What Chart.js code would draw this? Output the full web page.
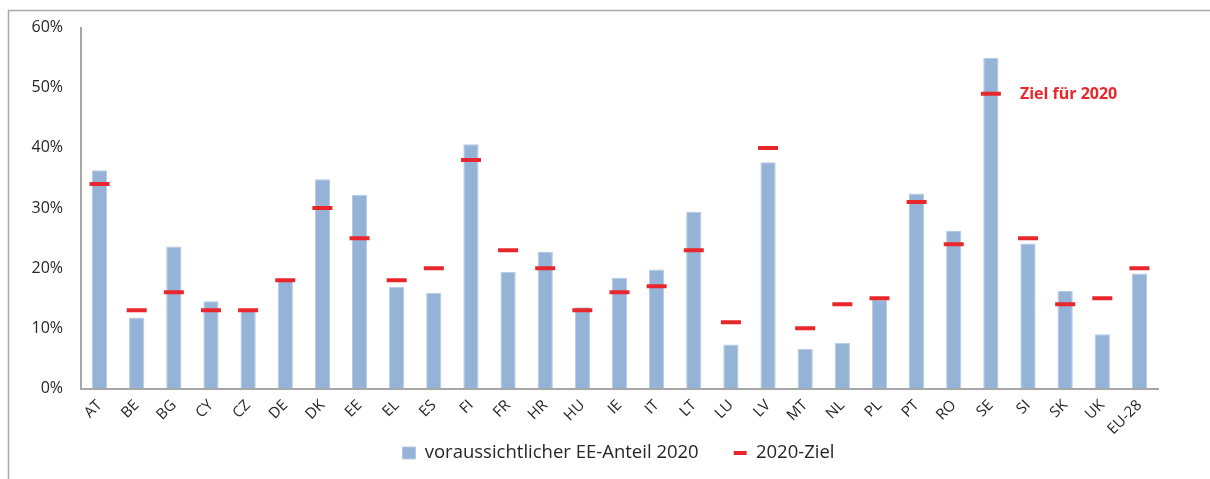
<!DOCTYPE html>
<html>
<head>
<meta charset="utf-8">
<script src="https://cdn.jsdelivr.net/npm/chart.js@4.4.1/dist/chart.umd.min.js"></script>
<style>
html,body{margin:0;padding:0;background:#fff;}
#wrap{position:absolute;left:0;top:0;width:1210px;height:479px;}
</style>
</head>
<body>
<div id="wrap"><canvas id="c" width="1210" height="479"></canvas></div>
<script>
const categories = ["AT","BE","BG","CY","CZ","DE","DK","EE","EL","ES","FI","FR","HR","HU","IE","IT","LT","LU","LV","MT","NL","PL","PT","RO","SE","SI","SK","UK","EU-28"];
const projectedShare = [36.3,11.8,23.6,14.5,13.0,18.0,34.8,32.2,16.9,15.9,40.6,19.4,22.7,13.5,18.4,19.8,29.4,7.3,37.6,6.6,7.6,14.7,32.4,26.2,55.0,24.1,16.2,9.0,19.1];
const target2020 = [34,13,16,13,13,18,30,25,18,20,38,23,20,13,16,17,23,11,40,10,14,15,31,24,49,25,14,15,20];
const yTicks = [0,10,20,30,40,50,60];
const annotationText = "Ziel für 2020";
const annotationIndex = 24;

const FONT = "Open Sans";
const TEXT = "#262626";
const AXIS = "#A6A6A6";
const RED = "#E8262B";
const BLUE = "#95B3D7";

const framePlugin = {
  id: 'frame',
  beforeDraw(chart) {
    const ctx = chart.ctx;
    ctx.save();
    ctx.strokeStyle = "#A9A9A9";
    ctx.lineWidth = 1.5;
    ctx.beginPath();
    ctx.moveTo(8.5, 479);
    ctx.lineTo(8.5, 10.5);
    ctx.lineTo(1210, 10.5);
    ctx.stroke();
    ctx.restore();
  }
};

// place the legend row where the reference has it (below the rotated labels)
const legendPlacePlugin = {
  id: 'legendPlace',
  afterLayout(chart) {
    const L = chart.legend;
    if (!L) return;
    L.top = 408.75;
    L.bottom = 479;
    L.height = L.bottom - L.top;
    L.left += 34.5; L.right += 34.5;
    L.width = L.right - L.left;
  }
};

const annotationPlugin = {
  id: 'annot',
  afterDatasetsDraw(chart) {
    const x = chart.scales.x.getPixelForValue(annotationIndex);
    const y = chart.scales.y.getPixelForValue(target2020[annotationIndex]);
    const ctx = chart.ctx;
    ctx.save();
    ctx.fillStyle = RED;
    ctx.font = "bold 16px '" + FONT + "'";
    ctx.textBaseline = "middle";
    ctx.textAlign = "left";
    ctx.fillText(annotationText, x + 29, y + 1);
    ctx.restore();
  }
};

new Chart(document.getElementById('c'), {
  data: {
    labels: categories,
    datasets: [
      {
        type: 'bar',
        label: 'voraussichtlicher EE-Anteil 2020',
        data: projectedShare,
        backgroundColor: BLUE,
        borderColor: "#B4C9E3",
        borderWidth: 1,
        barPercentage: 0.41,
        categoryPercentage: 1.0,
        pointStyle: 'rect',
        order: 2
      },
      {
        type: 'line',
        label: '2020-Ziel',
        data: target2020,
        showLine: false,
        pointStyle: 'line',
        pointRadius: 10,
        pointHoverRadius: 10,
        pointBorderWidth: 4,
        borderWidth: 4,
        borderColor: RED,
        backgroundColor: RED,
        order: 1
      }
    ]
  },
  options: {
    responsive: false,
    animation: false,
    devicePixelRatio: 1,
    layout: { padding: { left: 10, right: 52, top: 22, bottom: 6 } },
    plugins: {
      tooltip: { enabled: false },
      legend: {
        position: 'bottom',
        maxHeight: 38.5,
        labels: {
          usePointStyle: true,
          pointStyleWidth: 13,
          boxHeight: 12,
          padding: 35,
          color: TEXT,
          font: { family: FONT, size: 18.5 },
          sort: (a, b) => a.datasetIndex - b.datasetIndex
        }
      }
    },
    scales: {
      x: {
        grid: { display: false, drawTicks: false },
        border: { display: true, color: AXIS, width: 2 },
        ticks: {
          color: TEXT,
          font: { family: FONT, size: 15 },
          maxRotation: 45,
          minRotation: 45,
          padding: 8,
          autoSkip: false
        },
        afterFit(s) { s.height = 46; }
      },
      y: {
        min: 0,
        max: 60,
        grid: { display: false, drawTicks: false },
        border: { display: true, color: AXIS, width: 2 },
        afterBuildTicks(s) { s.ticks = yTicks.map(v => ({ value: v })); },
        ticks: {
          color: TEXT,
          font: { family: FONT, size: 16 },
          padding: 18,
          callback: v => v + '%'
        },
        afterFit(s) { s.width = 71; }
      }
    }
  },
  plugins: [framePlugin, legendPlacePlugin, annotationPlugin]
});
</script>
</body>
</html>
